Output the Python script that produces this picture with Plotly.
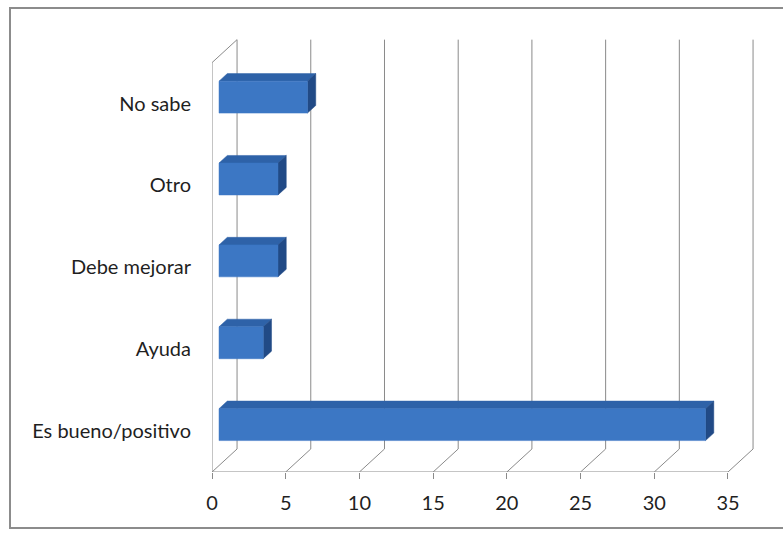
import plotly.graph_objects as go

categories = ["Es bueno/positivo", "Ayuda", "Debe mejorar", "Otro", "No sabe"]
values = [33, 3, 4, 4, 6]
x_ticks = [0, 5, 10, 15, 20, 25, 30, 35]

# 3D geometry (in data units)
DX = 1.70    # depth offset along x
DY = 0.281   # depth offset along y
DF = 0.28    # bar front depth fraction
DB = 0.61    # bar back depth fraction
H = 0.195    # half height of bar front face
XMAX = 35
YMIN, YMAX = -0.5, 4.5

GRID = "#8a8a8a"
FRONT = "#3c77c4"
TOP = "#2e62a8"
SIDE = "#214a86"

fig = go.Figure()

# bars
for i, (cat, v) in enumerate(zip(categories, values)):
    x0f, x1f = DF * DX, v + DF * DX
    x0b, x1b = DB * DX, v + DB * DX
    ybf, ytf = i - H + DF * DY, i + H + DF * DY
    ybb, ytb = i - H + DB * DY, i + H + DB * DY
    # top face
    fig.add_trace(go.Scatter(x=[x0f, x1f, x1b, x0b, x0f], y=[ytf, ytf, ytb, ytb, ytf],
                             fill="toself", fillcolor=TOP, mode="lines",
                             line=dict(color=TOP, width=0.5), hoverinfo="skip", showlegend=False))
    # side face
    fig.add_trace(go.Scatter(x=[x1f, x1b, x1b, x1f, x1f], y=[ybf, ybb, ytb, ytf, ybf],
                             fill="toself", fillcolor=SIDE, mode="lines",
                             line=dict(color=SIDE, width=0.5), hoverinfo="skip", showlegend=False))
    # front face
    fig.add_trace(go.Scatter(x=[x0f, x1f, x1f, x0f, x0f], y=[ybf, ybf, ytf, ytf, ybf],
                             fill="toself", fillcolor=FRONT, mode="lines",
                             line=dict(color=FRONT, width=0.5), hoverinfo="skip", showlegend=False))

shapes = []
# back wall gridlines and floor diagonals
for t in x_ticks:
    shapes.append(dict(type="line", xref="x", yref="y", x0=t + DX, x1=t + DX,
                       y0=YMIN + DY, y1=YMAX + DY, line=dict(color=GRID, width=1), layer="below"))
    shapes.append(dict(type="line", xref="x", yref="y", x0=t, x1=t + DX,
                       y0=YMIN, y1=YMIN + DY, line=dict(color=GRID, width=1), layer="below"))
# left wall top diagonal
shapes.append(dict(type="line", xref="x", yref="y", x0=0, x1=DX, y0=YMAX, y1=YMAX + DY,
                   line=dict(color=GRID, width=1), layer="below"))
# front left axis
shapes.append(dict(type="line", xref="x", yref="y", x0=0, x1=0, y0=YMIN, y1=YMAX,
                   line=dict(color=GRID, width=1)))
# front bottom axis
shapes.append(dict(type="line", xref="x", yref="y", x0=0, x1=XMAX, y0=YMIN, y1=YMIN,
                   line=dict(color=GRID, width=1)))
# left tick marks at category boundaries
for k in range(len(categories) + 1):
    yb = YMIN + k
    shapes.append(dict(type="line", xref="x", yref="y", x0=-0.35, x1=0, y0=yb, y1=yb,
                       line=dict(color=GRID, width=1)))
# image frame
shapes.append(dict(type="rect", xref="paper", yref="paper",
                   x0=(10 - 212) / 544, x1=(790 - 212) / 544,
                   y0=(472 - 528) / 438, y1=(472 - 8) / 438,
                   line=dict(color="#8c8c8c", width=2), fillcolor="rgba(0,0,0,0)"))

fig.update_layout(
    width=783, height=533,
    margin=dict(l=212, r=27, t=34, b=61),
    paper_bgcolor="white", plot_bgcolor="white",
    font=dict(family="Lato, Open Sans, sans-serif", size=20, color="#1f1f1f"),
    shapes=shapes,
    xaxis=dict(range=[0, 36.9], tickvals=x_ticks, ticktext=[str(t) for t in x_ticks],
               showgrid=False, zeroline=False, showline=False,
               ticks="outside", ticklen=6, tickcolor=GRID, ticklabelstandoff=7),
    yaxis=dict(range=[-0.5, 4.85], tickvals=list(range(len(categories))), ticktext=categories,
               showgrid=False, zeroline=False, showline=False, ticks="",
               ticklabelstandoff=20),
)

fig.write_html("out.html", config={"displayModeBar": False},
               post_script="document.body.style.margin='0';document.body.style.overflow='hidden';")
